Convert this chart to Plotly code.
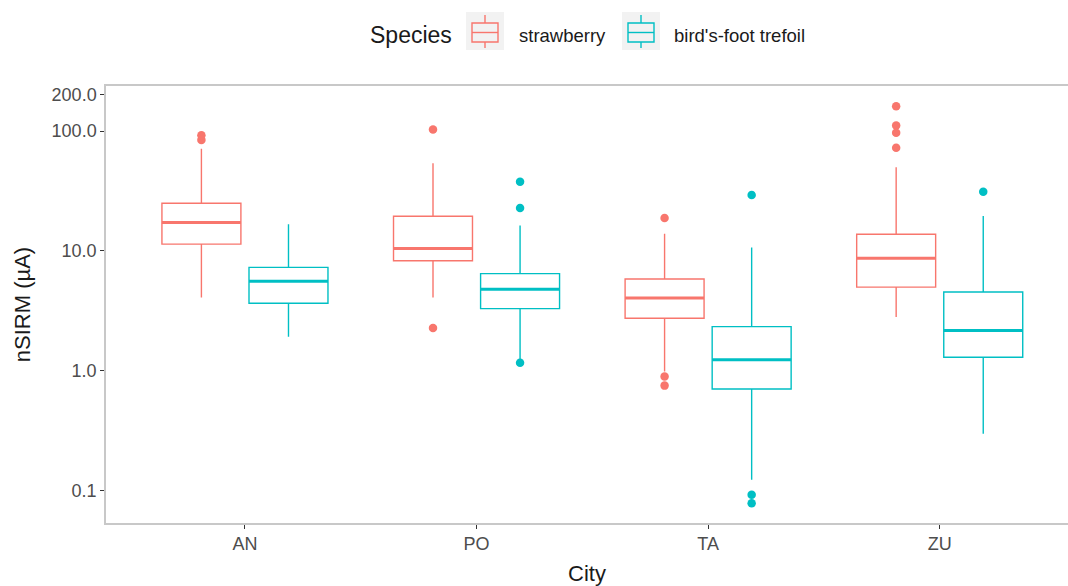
import plotly.graph_objects as go

cities = ["AN", "PO", "TA", "ZU"]
species = ["strawberry", "bird's-foot trefoil"]
colors = ["#F8766D", "#00BFC4"]

# strawberry box statistics
straw_q1 = [11.4, 8.3, 2.75, 5.0]
straw_med = [17.3, 10.5, 4.06, 8.7]
straw_q3 = [25.0, 19.5, 5.84, 13.8]
straw_lo = [4.1, 4.1, 0.99, 2.82]
straw_hi = [71.0, 53.8, 13.9, 49.8]
straw_out_city = ["AN", "AN", "PO", "PO", "TA", "TA", "TA", "ZU", "ZU", "ZU", "ZU"]
straw_out_val = [84.0, 92.0, 103.0, 2.28, 18.8, 0.90, 0.755, 161.0, 111.0, 96.8, 72.6]

# bird's-foot trefoil box statistics
tref_q1 = [3.67, 3.31, 0.708, 1.30]
tref_med = [5.6, 4.8, 1.24, 2.17]
tref_q3 = [7.3, 6.47, 2.34, 4.55]
tref_lo = [1.93, 1.22, 0.124, 0.30]
tref_hi = [16.7, 16.3, 10.7, 19.6]
tref_out_city = ["PO", "PO", "PO", "TA", "TA", "TA", "ZU"]
tref_out_val = [37.8, 22.8, 1.17, 29.3, 0.093, 0.079, 31.2]

y_tickvals = [0.1, 1, 10, 100, 200]
y_ticktext = ["0.1", "1.0", "10.0", "100.0", "200.0"]

DODGE = 0.188
BOXW = 0.341
FONT = "Liberation Sans, Arial, sans-serif"
W, H = 1068, 586
ML, MR, MT, MB = 106, 0, 86, 63
PW, PH = W - ML - MR, H - MT - MB


def px2x(px):
    return (px - ML) / PW


def py2y(py):
    return (H - MB - py) / PH


stats = [
    (straw_q1, straw_med, straw_q3, straw_lo, straw_hi, straw_out_city, straw_out_val),
    (tref_q1, tref_med, tref_q3, tref_lo, tref_hi, tref_out_city, tref_out_val),
]

fig = go.Figure()
for k, (q1, med, q3, lo, hi, oc, ov) in enumerate(stats):
    off = -DODGE if k == 0 else DODGE
    xs = [i + off for i in range(len(cities))]
    fig.add_trace(go.Box(
        x=xs, q1=q1, median=med, q3=q3, lowerfence=lo, upperfence=hi,
        name=species[k], width=BOXW, whiskerwidth=0,
        line=dict(color=colors[k], width=1.4),
        fillcolor="rgba(255,255,255,0)", boxpoints=False, hoverinfo="skip",
        showlegend=False,
    ))
    # thick median lines
    mx, my = [], []
    for i, m in enumerate(med):
        mx += [xs[i] - BOXW / 2, xs[i] + BOXW / 2, None]
        my += [m, m, None]
    fig.add_trace(go.Scatter(x=mx, y=my, mode="lines",
                             line=dict(color=colors[k], width=3),
                             showlegend=False, hoverinfo="skip"))
    # outliers
    fig.add_trace(go.Scatter(
        x=[cities.index(c) + off for c in oc], y=ov, mode="markers",
        marker=dict(color=colors[k], size=8.5), showlegend=False, hoverinfo="skip"))

# ggplot-style legend (gray key backgrounds with box glyphs)
shapes = []
annotations = [dict(
    x=px2x(368), y=py2y(35), xref="paper", yref="paper", xanchor="left", yanchor="middle",
    text="Species", showarrow=False, font=dict(size=23, color="#1a1a1a"))]
key_left = [466, 622]
text_left = [517, 672]
for k in range(2):
    kx = key_left[k]
    shapes.append(dict(type="rect", xref="paper", yref="paper",
                       x0=px2x(kx), x1=px2x(kx + 38), y0=py2y(50), y1=py2y(12),
                       fillcolor="#F2F2F2", line=dict(width=0), layer="above"))
    shapes.append(dict(type="rect", xref="paper", yref="paper",
                       x0=px2x(kx + 6), x1=px2x(kx + 32), y0=py2y(42), y1=py2y(23),
                       fillcolor="rgba(0,0,0,0)", line=dict(color=colors[k], width=1.4),
                       layer="above"))
    shapes.append(dict(type="line", xref="paper", yref="paper",
                       x0=px2x(kx + 6), x1=px2x(kx + 32), y0=py2y(32.5), y1=py2y(32.5),
                       line=dict(color=colors[k], width=1.4), layer="above"))
    shapes.append(dict(type="line", xref="paper", yref="paper",
                       x0=px2x(kx + 19), x1=px2x(kx + 19), y0=py2y(23), y1=py2y(15),
                       line=dict(color=colors[k], width=1.4), layer="above"))
    shapes.append(dict(type="line", xref="paper", yref="paper",
                       x0=px2x(kx + 19), x1=px2x(kx + 19), y0=py2y(42), y1=py2y(48),
                       line=dict(color=colors[k], width=1.4), layer="above"))
    annotations.append(dict(
        x=px2x(text_left[k]), y=py2y(35), xref="paper", yref="paper",
        xanchor="left", yanchor="middle", text=species[k], showarrow=False,
        font=dict(size=18.5, color="#1a1a1a")))

fig.update_layout(
    width=W, height=H,
    margin=dict(l=ML, r=MR, t=MT, b=MB),
    plot_bgcolor="white", paper_bgcolor="white",
    font=dict(family=FONT, color="#1a1a1a"),
    boxmode="overlay", showlegend=False,
    shapes=shapes, annotations=annotations,
)
fig.update_xaxes(
    range=[-0.6, 3.554], tickvals=list(range(len(cities))), ticktext=cities,
    showgrid=False, zeroline=False, automargin=False,
    showline=True, linecolor="#C8C8C8", linewidth=1.5, mirror=True,
    ticks="outside", ticklen=4, tickcolor="#333333",
    tickfont=dict(size=18, color="#4D4D4D"),
    title=dict(text="City", font=dict(size=22, color="#1a1a1a")),
)
fig.update_yaxes(
    type="log", range=[-1.267, 2.375], tickvals=y_tickvals, ticktext=y_ticktext,
    showgrid=False, zeroline=False, automargin=False,
    showline=True, linecolor="#C8C8C8", linewidth=1.5, mirror=False,
    ticks="outside", ticklen=4, tickcolor="#333333",
    tickfont=dict(size=18, color="#4D4D4D"),
    title=dict(text="nSIRM (µA)", font=dict(size=22, color="#1a1a1a")),
)

fig.write_html("out.html", config={"displayModeBar": False},
               post_script="document.body.style.margin='0px';document.body.style.overflow='hidden';")
